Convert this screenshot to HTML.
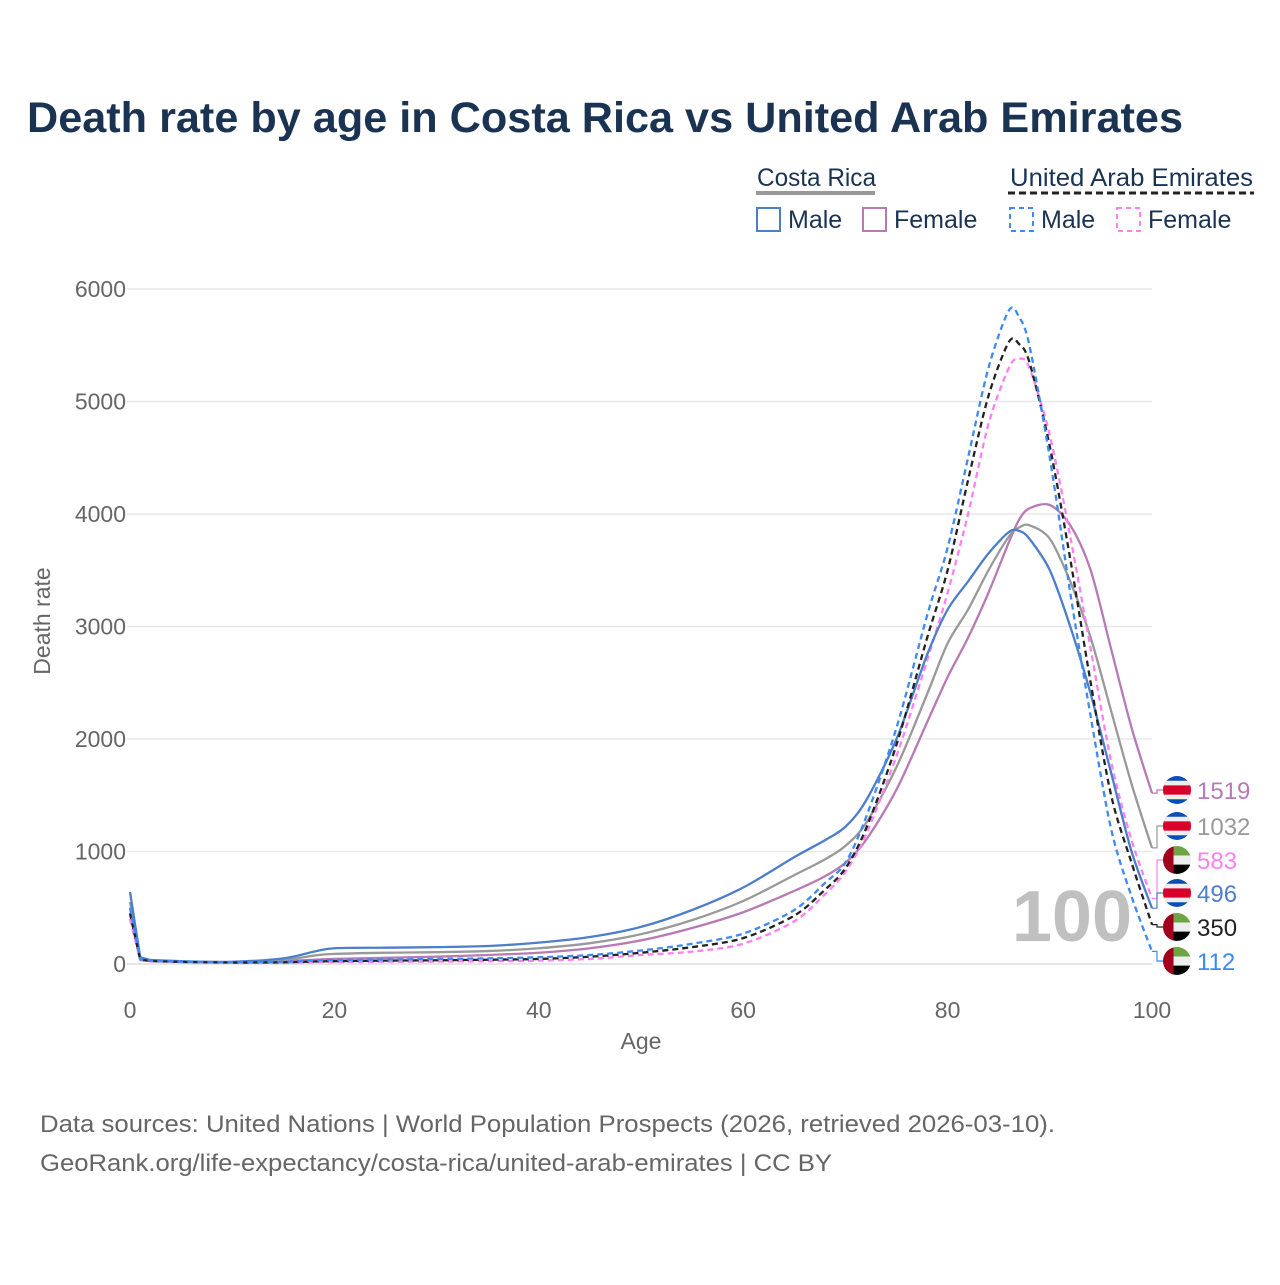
<!DOCTYPE html>
<html><head><meta charset="utf-8">
<style>
html,body{margin:0;padding:0;background:#fff;}
body{width:1280px;height:1280px;overflow:hidden;font-family:"Liberation Sans",sans-serif;}
</style></head>
<body>
<svg id="chart" width="1280" height="1280" viewBox="0 0 1280 1280" xmlns="http://www.w3.org/2000/svg" font-family="Liberation Sans, sans-serif">
<text x="27" y="132" font-size="43" font-weight="bold" fill="#1b3353" textLength="1156" lengthAdjust="spacingAndGlyphs">Death rate by age in Costa Rica vs United Arab Emirates</text>
<g font-size="25" fill="#1b3353">
<text x="757" y="186" textLength="119" lengthAdjust="spacingAndGlyphs">Costa Rica</text>
<line x1="756" y1="193" x2="875" y2="193" stroke="#999" stroke-width="4"/>
<text x="1010" y="186" textLength="243" lengthAdjust="spacingAndGlyphs">United Arab Emirates</text>
<line x1="1008" y1="193" x2="1254" y2="193" stroke="#222" stroke-width="3" stroke-dasharray="7,4"/>
<rect x="757" y="208" width="23" height="23" fill="none" stroke="#4d7ecb" stroke-width="2"/>
<text x="788" y="228">Male</text>
<rect x="863" y="208" width="23" height="23" fill="none" stroke="#b87ab6" stroke-width="2"/>
<text x="894" y="228">Female</text>
<rect x="1010" y="208" width="23" height="23" fill="none" stroke="#3d8af5" stroke-width="2" stroke-dasharray="5,4"/>
<text x="1041" y="228">Male</text>
<rect x="1117" y="208" width="23" height="23" fill="none" stroke="#ff80f0" stroke-width="2" stroke-dasharray="5,4"/>
<text x="1148" y="228">Female</text>
</g>
<g id="grid"></g>
<text x="1132" y="941" font-size="72" font-weight="bold" fill="#c0c0c0" text-anchor="end">100</text>
<g id="series"></g>
<g id="labels"></g>
<text transform="translate(50,621) rotate(-90)" font-size="23" fill="#666" text-anchor="middle">Death rate</text>
<text x="641" y="1049" font-size="23" fill="#666" text-anchor="middle">Age</text>
<text x="40" y="1132" font-size="24" fill="#666" textLength="1015" lengthAdjust="spacingAndGlyphs">Data sources: United Nations | World Population Prospects (2026, retrieved 2026-03-10).</text>
<text x="40" y="1171" font-size="24" fill="#666" textLength="792" lengthAdjust="spacingAndGlyphs">GeoRank.org/life-expectancy/costa-rica/united-arab-emirates | CC BY</text>
</svg>
<script>
const ages = [0,1,2,5,10,15,18,20,25,30,35,40,45,50,55,60,65,68,70,72,75,78,80,82,84,86,87,88,90,92,94,96,98,100];
const crMale = [640,60,35,25,20,50,110,140,145,150,160,190,240,330,480,680,950,1100,1220,1450,2000,2750,3150,3400,3650,3840,3850,3780,3500,3000,2400,1700,1000,496];
const crFemale = [450,45,30,20,15,25,38,45,55,65,80,100,140,210,320,460,650,780,900,1100,1550,2150,2550,2900,3300,3750,3950,4050,4080,3900,3500,2800,2100,1519];
const crAll = [550,50,32,22,17,35,75,90,100,105,115,140,185,265,390,560,790,930,1050,1250,1750,2400,2850,3150,3500,3800,3880,3900,3780,3400,2900,2250,1600,1032];
const uaeMale = [500,40,28,20,15,20,30,35,40,45,50,60,80,120,180,270,480,720,900,1300,2100,3100,3700,4500,5300,5810,5750,5500,4500,3300,2200,1200,600,112];
const uaeAll = [450,38,26,18,13,15,22,25,30,33,38,45,65,100,150,230,430,660,850,1200,1950,2900,3500,4300,5050,5530,5510,5350,4600,3600,2500,1500,900,350];
const uaeFemale = [400,35,24,17,12,12,16,18,20,22,25,30,45,80,110,180,380,620,820,1150,1850,2700,3300,4000,4800,5300,5380,5300,4700,3800,2800,1800,1100,583];
const yTicks = [0,1000,2000,3000,4000,5000,6000];
const xTicks = [0,20,40,60,80,100];

const NS = "http://www.w3.org/2000/svg";
const X = a => 130 + a * 10.22;
const Y = v => 964 - v * 0.1125;
function mk(tag, attrs, parent){const e=document.createElementNS(NS,tag);for(const k in attrs)e.setAttribute(k,attrs[k]);parent.appendChild(e);return e;}

const grid = document.getElementById('grid');
yTicks.forEach(t=>{
  const l = mk('line',{x1:127,x2:1152,y1:Y(t),y2:Y(t),stroke:t===0?'#ddd':'#e8e8e8','stroke-width':1.5},grid);
  
  
  const tx = mk('text',{x:126,y:Y(t)+8,'font-size':23,fill:'#666','text-anchor':'end'},grid);
  
  
  tx.textContent = t;
});
xTicks.forEach(t=>{
  const tx = mk('text',{x:X(t),y:1018,'font-size':23,fill:'#666','text-anchor':'middle'},grid);
  
  
  tx.textContent = t;
});

function pathD(vals){
  const p = ages.map((a,i)=>[X(a),Y(vals[i])]);
  let d = 'M'+p[0][0]+','+p[0][1];
  for(let i=0;i<p.length-1;i++){
    const p0=p[Math.max(i-1,0)],p1=p[i],p2=p[i+1],p3=p[Math.min(i+2,p.length-1)];
    const t=(i<3)?0.0:0.15;
    const c1=[p1[0]+(p2[0]-p0[0])*t,p1[1]+(p2[1]-p0[1])*t];
    const c2=[p2[0]-(p3[0]-p1[0])*t,p2[1]-(p3[1]-p1[1])*t];
    d+=' C'+c1[0]+','+c1[1]+' '+c2[0]+','+c2[1]+' '+p2[0]+','+p2[1];
  }
  return d;
}
const series = [
  {name:'cr-female',vals:crFemale,color:'#b87ab6',dash:null,lab:'#b87ab6',flag:'cr'},
  {name:'cr-all',vals:crAll,color:'#999',dash:null,lab:'#999',flag:'cr'},
  {name:'uae-female',vals:uaeFemale,color:'#ff80f0',dash:'6,4',lab:'#ff80f0',flag:'uae'},
  {name:'cr-male',vals:crMale,color:'#4d7ecb',dash:null,lab:'#4d7ecb',flag:'cr'},
  {name:'uae-all',vals:uaeAll,color:'#222',dash:'6,4',lab:'#222',flag:'uae'},
  {name:'uae-male',vals:uaeMale,color:'#3d8af5',dash:'6,4',lab:'#3d8af5',flag:'uae'}
];
const sg = document.getElementById('series');
const lg = document.getElementById('labels');
const labelY = [790,826,860,893,927,961];
series.forEach((s,i)=>{
  const a = {d:pathD(s.vals),fill:'none',stroke:s.color,'stroke-width':2.3,'stroke-linejoin':'round'};
  if(s.dash) a['stroke-dasharray']=s.dash;
  const p = mk('path',a,sg);
  
  
  const end = s.vals[s.vals.length-1];
  const ly = labelY[i];
  const c = mk('polyline',{points:`1152,${Y(end)} 1157,${Y(end)} 1157,${ly} 1163,${ly}`,fill:'none',stroke:s.color,'stroke-width':1.2},lg);
  
  
  const g = mk('g',{},lg);
  
  
  const cx=1177,r=14;
  const cid='clip'+i;
  const cp = mk('clipPath',{id:cid},g); mk('circle',{cx:cx,cy:ly,r:r},cp);
  const fg = mk('g',{'clip-path':`url(#${cid})`},g);
  if(s.flag==='cr'){
    mk('rect',{x:cx-r,y:ly-r,width:2*r,height:2*r,fill:'#0a4fb5'},fg);
    mk('rect',{x:cx-r,y:ly-r*0.66,width:2*r,height:r*1.32,fill:'#eee'},fg);
    mk('rect',{x:cx-r,y:ly-r*0.33,width:2*r,height:r*0.66,fill:'#d8002a'},fg);
  } else {
    mk('rect',{x:cx-r,y:ly-r,width:2*r,height:2*r*0.34,fill:'#6da544'},fg);
    mk('rect',{x:cx-r,y:ly-r*0.32,width:2*r,height:r*0.66,fill:'#eee'},fg);
    mk('rect',{x:cx-r,y:ly+r*0.33,width:2*r,height:r*0.7,fill:'#000'},fg);
    mk('rect',{x:cx-r,y:ly-r,width:r*0.75,height:2*r,fill:'#a2001d'},fg);
  }
  const t = mk('text',{x:1197,y:ly+9,'font-size':24,fill:s.lab},lg);
  
  
  t.textContent = end;
});
</script>
</body></html>
